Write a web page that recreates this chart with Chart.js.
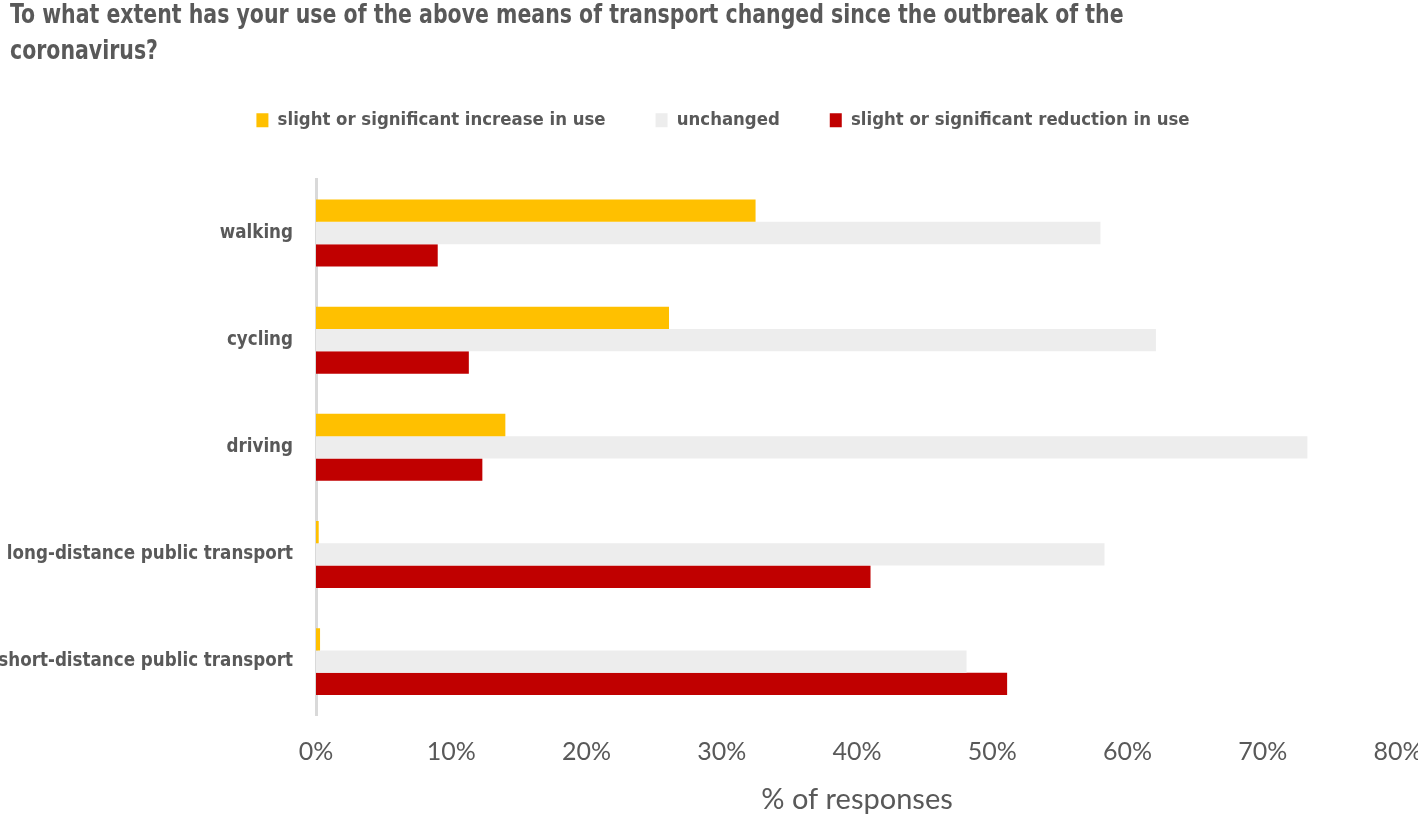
<!DOCTYPE html>
<html>
<head>
<meta charset="utf-8">
<script src="https://cdn.jsdelivr.net/npm/chart.js@4.4.1/dist/chart.umd.min.js"></script>
<style>
  html, body { margin: 0; padding: 0; background: #fff; }
  #wrap { position: relative; width: 1418px; height: 817px; }
  #title {
    position: absolute; left: 10px; top: -4px;
    font-family: "DejaVu Sans Condensed", "DejaVu Sans", sans-serif;
    font-weight: bold; font-size: 26px; line-height: 36px; color: #595959;
    white-space: nowrap;
    transform: scaleX(0.876); transform-origin: left top;
  }
  canvas { position: absolute; left: 0; top: 0; }
</style>
</head>
<body>
<div id="wrap">
  <canvas id="chart" width="1418" height="817"></canvas>
  <div id="title">To what extent has your use of the above means of transport changed since the outbreak of the<br>coronavirus?</div>
</div>
<script>
const categories = ['walking', 'cycling', 'driving', 'long-distance public transport', 'short-distance public transport'];
const increase = [32.5, 26.1, 14.0, 0.2, 0.3];
const unchanged = [58.0, 62.1, 73.3, 58.3, 48.1];
const reduction = [9.0, 11.3, 12.3, 41.0, 51.1];
const xTicks = [0, 10, 20, 30, 40, 50, 60, 70, 80];

const condensed = '"DejaVu Sans Condensed", "DejaVu Sans", sans-serif';
const grey = '#595959';

// extra room between the legend and the plot, legend nudged right a little
const legendGap = {
    id: 'legendGap',
    beforeUpdate(chart) {
        const lg = chart.legend;
        if (lg && !lg._gapPatched) {
            const fit = lg.fit;
            lg.fit = function() {
                fit.call(this);
                this.height += 40;
            };
            const draw = lg.draw;
            lg.draw = function() {
                this.ctx.save();
                this.ctx.translate(14, 0);
                draw.call(this);
                this.ctx.restore();
            };
            lg._gapPatched = true;
        }
    }
};

const ctx = document.getElementById('chart').getContext('2d');
const chart = new Chart(ctx, {
    type: 'bar',
    data: {
        labels: categories,
        datasets: [{
            label: 'slight or significant increase in use',
            data: increase,
            backgroundColor: '#FFC000'
        }, {
            label: 'unchanged',
            data: unchanged,
            backgroundColor: '#EDEDED'
        }, {
            label: 'slight or significant reduction in use',
            data: reduction,
            backgroundColor: '#C00000'
        }]
    },
    options: {
        indexAxis: 'y',
        responsive: false,
        animation: false,
        categoryPercentage: 0.625,
        barPercentage: 1.0,
        layout: {
            padding: { top: 61, left: 0, right: 0, bottom: 0 }
        },
        plugins: {
            legend: {
                position: 'top',
                labels: {
                    boxWidth: 12,
                    boxHeight: 14,
                    padding: 50,
                    color: grey,
                    font: { family: condensed, weight: 'bold', size: 18.4 }
                }
            },
            tooltip: { enabled: false }
        },
        scales: {
            x: {
                min: 0,
                max: 80,
                afterBuildTicks: function(axis) {
                    axis.ticks = xTicks.map(v => ({ value: v }));
                },
                afterFit: function(axis) {
                    axis.paddingLeft = 0;
                    axis.paddingRight = 20;
                },
                grid: { display: false, drawTicks: false },
                border: { display: false },
                ticks: {
                    padding: 22,
                    color: grey,
                    font: { family: 'Lato', size: 25 },
                    callback: v => v + '%'
                },
                title: {
                    display: true,
                    text: '% of responses',
                    color: grey,
                    font: { family: 'Lato', size: 29 },
                    padding: { top: -7, bottom: 0 }
                }
            },
            y: {
                afterFit: function(axis) { axis.width = 316; },
                grid: { display: false, drawTicks: false },
                border: { display: true, color: '#D9D9D9', width: 3 },
                ticks: {
                    padding: 23,
                    color: grey,
                    font: { family: condensed, weight: 'bold', size: 18.6 }
                }
            }
        }
    },
    plugins: [legendGap]
});
</script>
</body>
</html>
